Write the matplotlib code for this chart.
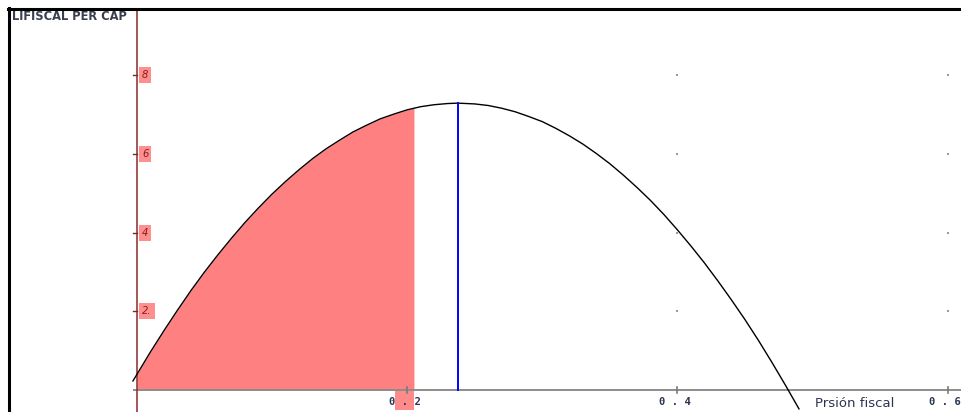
import matplotlib
matplotlib.use("Agg")
import matplotlib.pyplot as plt
from matplotlib.lines import Line2D
from matplotlib.patches import Rectangle

# ---- data ----
curve_x = [-0.003, 0.0, 0.01, 0.02, 0.03, 0.04, 0.05, 0.06, 0.07, 0.08, 0.09,
           0.10, 0.11, 0.12, 0.13, 0.14, 0.15, 0.16, 0.17, 0.18, 0.19,
           0.20, 0.205, 0.21, 0.22, 0.23, 0.2376, 0.25, 0.26, 0.27, 0.28,
           0.29, 0.30, 0.31, 0.32, 0.33, 0.34, 0.35, 0.36, 0.37, 0.38,
           0.39, 0.40, 0.41, 0.42, 0.43, 0.44, 0.45, 0.46, 0.47, 0.48, 0.49]
curve_y = [0.23, 0.40, 0.97, 1.51, 2.03, 2.53, 3.00, 3.44, 3.86, 4.26, 4.63,
           4.98, 5.30, 5.60, 5.88, 6.13, 6.35, 6.56, 6.73, 6.89, 7.01,
           7.12, 7.16, 7.20, 7.25, 7.28, 7.29, 7.27, 7.23, 7.16, 7.07,
           6.95, 6.82, 6.65, 6.46, 6.25, 6.01, 5.75, 5.46, 5.15, 4.82,
           4.46, 4.07, 3.66, 3.23, 2.77, 2.29, 1.79, 1.26, 0.70, 0.12, -0.48]
fill_end = 0.205          # right edge of shaded area
peak_x = 0.2376           # vertical blue line
peak_y = 7.29
xticks = [0.2, 0.4, 0.6]
xtick_labels = ["0 . 2", "0 . 4", "0 . 6"]
yticks = [2, 4, 6, 8]
ytick_labels = ["2.", "4", "6", "8"]
ylabel = "LIFISCAL PER CAP"
xlabel = "Prsión fiscal"

W, H = 962, 412
fig = plt.figure(figsize=(W / 100, H / 100), dpi=100)
ax = fig.add_axes([0, 0, 1, 1])
# pixel mapping: x=0 at px 137, 1351 px per unit; y=0 at px 390, 39.35 px per unit
x0px, xs = 137, 1351.0
y0px, ys = 390, 39.35
ax.set_xlim((0 - x0px) / xs, (W - x0px) / xs)
ax.set_ylim((y0px - H) / ys, (y0px - 0) / ys)
ax.axis("off")

def px2x(p):
    return (p - x0px) / xs

def px2y(p):
    return (y0px - p) / ys

# shaded area
fx = [x for x in curve_x if 0 <= x <= fill_end]
fy = [y for x, y in zip(curve_x, curve_y) if 0 <= x <= fill_end]
ax.fill_between(fx, 0, fy, color="#ff8080", lw=0, zorder=1)

# grid dots
for gx in [0.4, 0.6]:
    for gy in yticks:
        ax.plot([gx], [gy], marker="s", ms=1.6, color="#9a9a9a", mew=0, zorder=2)

# x axis
ax.plot([px2x(133), px2x(W)], [0, 0], color="#8c8c8c", lw=1.4, zorder=3,
        solid_capstyle="butt")
for t in xticks:
    ax.plot([t, t], [px2y(387), px2y(393)], color="#7a7a7a", lw=1.2, zorder=3)
# y axis
ax.plot([0, 0], [px2y(9), px2y(H)], color="#8b2a2a", lw=1.1, zorder=4)
for t in yticks:
    ax.plot([px2x(133), 0], [t, t], color="#6a3030", lw=1.0, zorder=4)

# pink highlight behind "0." of 0.2 label
ax.add_patch(Rectangle((px2x(395), px2y(410)), px2x(414) - px2x(395),
                       px2y(391) - px2y(410), color="#ff8a8a", lw=0, zorder=2))

# curve
ax.plot(curve_x, curve_y, color="black", lw=1.0, zorder=5)
# peak line
ax.plot([peak_x, peak_x], [0, peak_y], color="#0000ff", lw=1.4, zorder=5)

# tick labels
for t, lab in zip(xticks, xtick_labels):
    ax.text(t - 0.002, px2y(397), lab, family="DejaVu Sans Mono", fontsize=7.6,
            fontweight="bold", color="#2a3550", ha="center", va="top", zorder=6)
for t, lab in zip(yticks, ytick_labels):
    ax.text(px2x(142), t, lab, fontsize=7.2, style="italic", color="#8b1a1a",
            ha="left", va="center", zorder=6,
            bbox=dict(boxstyle="square,pad=0.3", fc="#ff8f8f", ec="none"))

# axis labels
ax.text(px2x(12), px2y(10), ylabel, fontsize=8.3, fontweight="bold",
        color="#3a3f4f", ha="left", va="top", zorder=6)
ax.text(px2x(815), px2y(397), xlabel, fontsize=9.5, color="#2a3550",
        ha="left", va="top", zorder=6)

# outer frame (top and left visible)
fig.add_artist(Line2D([8 / W, 1], [1 - 9 / H, 1 - 9 / H], transform=fig.transFigure,
                      color="black", lw=2.2))
fig.add_artist(Line2D([9 / W, 9 / W], [0, 1 - 8 / H], transform=fig.transFigure,
                      color="black", lw=2.2))

fig.savefig("out.png", dpi=100, facecolor="white")
